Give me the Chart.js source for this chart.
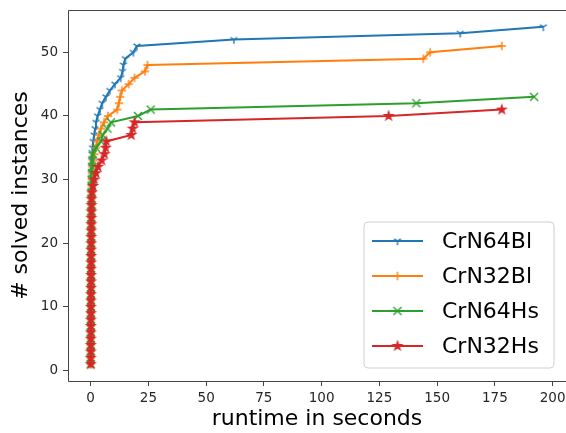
<!DOCTYPE html>
<html>
<head>
<meta charset="utf-8">
<script src="https://cdn.jsdelivr.net/npm/chart.js@4/dist/chart.umd.min.js"></script>
<style>
  html, body { margin: 0; padding: 0; background: #fff; }
  #wrap { width: 566px; height: 433px; position: relative; }
</style>
</head>
<body>
<div id="wrap"><canvas id="chart"></canvas></div>
<script>
// cactus plot: runtime (s) needed for the n-th solved instance
const seriesNames = ['CrN64Bl', 'CrN32Bl', 'CrN64Hs', 'CrN32Hs'];
const seriesColors = ['#1f77b4', '#ff7f0e', '#2ca02c', '#d62728'];

const crn64blTimes = [
  0.02, 0.03, 0.03, 0.04, 0.05, 0.05, 0.06, 0.07, 0.08, 0.09,
  0.10, 0.10, 0.11, 0.12, 0.13, 0.14, 0.15, 0.16, 0.17, 0.18,
  0.20, 0.21, 0.22, 0.24, 0.25, 0.27, 0.29, 0.30, 0.32, 0.35,
  0.40, 0.45, 0.50, 0.60, 0.85, 1.1, 1.5, 1.9, 2.3, 3.0,
  4.0, 5.0, 6.6, 8.3, 10.5, 13.0, 13.8, 14.2, 15.0, 18.5,
  20.0, 62.0, 160.0, 196.0
];
const crn32blTimes = [
  0.02, 0.03, 0.04, 0.05, 0.05, 0.06, 0.07, 0.08, 0.09, 0.10,
  0.11, 0.12, 0.13, 0.14, 0.15, 0.16, 0.18, 0.19, 0.20, 0.22,
  0.24, 0.26, 0.28, 0.30, 0.32, 0.35, 0.38, 0.42, 0.45, 0.50,
  0.60, 0.80, 1.1, 1.6, 2.2, 2.8, 3.6, 4.5, 5.8, 7.5,
  11.5, 12.2, 12.8, 13.5, 16.5, 19.0, 23.5, 24.6, 144.0, 147.0,
  178.0
];
const crn64hsTimes = [
  0.03, 0.04, 0.05, 0.06, 0.07, 0.08, 0.09, 0.10, 0.11, 0.12,
  0.13, 0.14, 0.15, 0.16, 0.17, 0.18, 0.19, 0.20, 0.21, 0.22,
  0.24, 0.26, 0.28, 0.30, 0.32, 0.35, 0.38, 0.40, 0.45, 0.50,
  0.55, 0.65, 0.80, 0.9, 2.3, 4.5, 5.2, 7.3, 8.8, 20.5,
  26.0, 141.0, 192.0
];
const crn32hsTimes = [
  0.03, 0.04, 0.05, 0.06, 0.07, 0.08, 0.09, 0.10, 0.11, 0.12,
  0.13, 0.14, 0.15, 0.16, 0.17, 0.18, 0.19, 0.20, 0.21, 0.22,
  0.24, 0.26, 0.28, 0.30, 0.33, 0.36, 0.40, 0.60, 1.0, 1.6,
  2.3, 3.2, 4.8, 6.0, 6.5, 6.8, 17.6, 18.2, 19.0, 129.0,
  178.0
];

const xTicks = [0, 25, 50, 75, 100, 125, 150, 175, 200];
const yTicks = [0, 10, 20, 30, 40, 50];

// small marker images for the styles Chart.js doesn't have
function markerCanvas(color, kind) {
  const c = document.createElement('canvas');
  c.width = 14; c.height = 14;
  const g = c.getContext('2d');
  g.strokeStyle = color; g.fillStyle = color; g.lineWidth = 1.4;
  if (kind === 'tri') {
    g.beginPath();
    g.moveTo(7, 7); g.lineTo(7, 11.2);
    g.moveTo(7, 7); g.lineTo(10.4, 4.9);
    g.moveTo(7, 7); g.lineTo(3.6, 4.9);
    g.stroke();
  } else if (kind === 'plus') {
    g.beginPath();
    g.moveTo(7, 2.8); g.lineTo(7, 11.2);
    g.moveTo(2.8, 7); g.lineTo(11.2, 7);
    g.stroke();
  } else if (kind === 'x') {
    g.beginPath();
    g.moveTo(3, 3); g.lineTo(11, 11);
    g.moveTo(11, 3); g.lineTo(3, 11);
    g.stroke();
  } else {
    g.beginPath();
    for (let i = 0; i < 10; i++) {
      const r = i % 2 ? 1.6 : 4.2;
      const a = -Math.PI / 2 + i * Math.PI / 5;
      const px = 7 + r * Math.cos(a), py = 7 + r * Math.sin(a);
      i ? g.lineTo(px, py) : g.moveTo(px, py);
    }
    g.closePath(); g.fill(); g.stroke();
  }
  return c;
}
const markerKinds = ['tri', 'plus', 'x', 'star'];
const markers = seriesColors.map((c, i) => markerCanvas(c, markerKinds[i]));

const allTimes = [crn64blTimes, crn32blTimes, crn64hsTimes, crn32hsTimes];
const datasets = allTimes.map((times, i) => ({
  label: seriesNames[i],
  data: times.map((t, k) => ({ x: t, y: k + 1 })),
  borderColor: seriesColors[i],
  backgroundColor: seriesColors[i],
  borderWidth: 2,
  pointStyle: markers[i],
  pointRadius: 5,
  tension: 0,
  order: 4 - i
}));

const font = 'DejaVu Sans';

// axes frame (right side is cut off in the original) + legend box
const framePlugin = {
  id: 'frame',
  afterDraw(chart) {
    const { ctx, chartArea: a } = chart;
    const l = Math.round(a.left) + 0.5, t = Math.round(a.top) + 0.5, b = Math.round(a.bottom) + 0.5;
    ctx.save();
    ctx.strokeStyle = '#444';
    ctx.lineWidth = 1;
    ctx.beginPath();
    ctx.moveTo(a.right + 2, t); ctx.lineTo(l, t); ctx.lineTo(l, b); ctx.lineTo(a.right + 2, b);
    ctx.stroke();

    // legend
    const bx = 364, by = 222, bw = 190, bh = 146, r = 4;
    ctx.beginPath();
    ctx.moveTo(bx + r, by);
    ctx.arcTo(bx + bw, by, bx + bw, by + bh, r);
    ctx.arcTo(bx + bw, by + bh, bx, by + bh, r);
    ctx.arcTo(bx, by + bh, bx, by, r);
    ctx.arcTo(bx, by, bx + bw, by, r);
    ctx.closePath();
    ctx.fillStyle = 'rgba(255,255,255,0.8)';
    ctx.fill();
    ctx.strokeStyle = '#d0d0d0';
    ctx.stroke();
    ctx.font = '22px "' + font + '"';
    ctx.textBaseline = 'middle';
    seriesNames.forEach((name, i) => {
      const y = 241 + i * 35;
      ctx.strokeStyle = seriesColors[i];
      ctx.lineWidth = 2;
      ctx.beginPath(); ctx.moveTo(372, y); ctx.lineTo(423, y); ctx.stroke();
      const m = markers[i];
      ctx.drawImage(m, 397.5 - m.width / 2, y - m.height / 2);
      ctx.fillStyle = '#000';
      ctx.fillText(name, 442, y + 1);
    });
    ctx.restore();
  }
};

new Chart(document.getElementById('chart'), {
  type: 'line',
  data: { datasets },
  options: {
    responsive: true,
    maintainAspectRatio: false,
    animation: false,
    devicePixelRatio: 1,
    layout: { autoPadding: false, padding: { left: 0, top: 10, right: 0, bottom: 0 } },
    plugins: { legend: { display: false }, tooltip: { enabled: false } },
    scales: {
      x: {
        type: 'linear',
        min: -9.8,
        max: 205.8,
        afterBuildTicks: s => { s.ticks = xTicks.map(v => ({ value: v })); },
        afterFit: s => { s.height = 52; s.paddingLeft = 0; s.paddingRight = 0; },
        grid: { drawOnChartArea: false, tickLength: 5, tickColor: '#444' },
        border: { display: false },
        ticks: { color: '#262626', padding: 4, maxRotation: 0, font: { family: font, size: 13.5 } },
        title: {
          display: true, text: 'runtime in seconds', color: '#000',
          font: { family: font, size: 22 }, padding: { top: 0, bottom: 1 }
        }
      },
      y: {
        type: 'linear',
        min: -1.65,
        max: 56.65,
        afterBuildTicks: s => { s.ticks = yTicks.map(v => ({ value: v })); },
        afterFit: s => { s.width = 68; s.paddingTop = 0; s.paddingBottom = 0; },
        grid: { drawOnChartArea: false, tickLength: 5, tickColor: '#444' },
        border: { display: false },
        ticks: { color: '#262626', padding: 5, font: { family: font, size: 13.5 } },
        title: {
          display: true, text: '# solved instances', color: '#000',
          font: { family: font, size: 22 }, padding: { top: 8, bottom: 0 }
        }
      }
    }
  },
  plugins: [framePlugin]
});
</script>
</body>
</html>
